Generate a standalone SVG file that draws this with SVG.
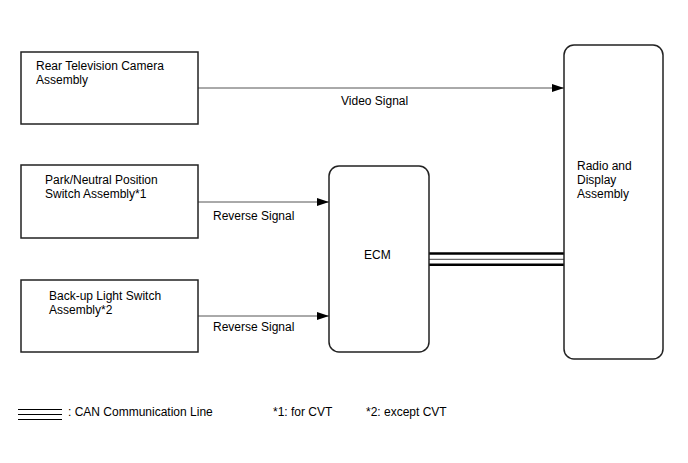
<svg xmlns="http://www.w3.org/2000/svg" width="688" height="463" viewBox="0 0 688 463">
<defs>
<style>
text{font-family:"Liberation Sans",Arial,sans-serif;font-size:12px;fill:#000}
.box{fill:#fff;stroke:#222;stroke-width:1.5}
.ln{stroke:#555;stroke-width:1;fill:none}
</style>
<marker id="arr" markerWidth="12" markerHeight="8" refX="12" refY="4" orient="auto" markerUnits="userSpaceOnUse">
<path d="M0,0 L12,4 L0,8 Z" fill="#000"/>
</marker>
</defs>
<rect width="688" height="463" fill="#fff"/>
<g id="connectors">
<line class="ln" x1="198" y1="88" x2="564" y2="88" marker-end="url(#arr)"/>
<line class="ln" x1="198" y1="202" x2="329" y2="202" marker-end="url(#arr)"/>
<line class="ln" x1="198" y1="316" x2="329" y2="316" marker-end="url(#arr)"/>
<line x1="429" y1="253.5" x2="564" y2="253.5" stroke="#000" stroke-width="2.5"/>
<line x1="429" y1="259.3" x2="564" y2="259.3" stroke="#444" stroke-width="1"/>
<line x1="429" y1="264.7" x2="564" y2="264.7" stroke="#000" stroke-width="2.5"/>
<text x="341" y="105">Video Signal</text>
<text x="213" y="220">Reverse Signal</text>
<text x="213" y="331">Reverse Signal</text>
</g>
<g id="camera">
<rect class="box" x="21" y="52" width="177" height="72"/>
<text x="36" y="70">Rear Television Camera</text>
<text x="36" y="84">Assembly</text>
</g>
<g id="park">
<rect class="box" x="21" y="165" width="177" height="73"/>
<text x="45" y="184">Park/Neutral Position</text>
<text x="45" y="198">Switch Assembly*1</text>
</g>
<g id="backup">
<rect class="box" x="21" y="280" width="177" height="72"/>
<text x="49" y="300">Back-up Light Switch</text>
<text x="49" y="314">Assembly*2</text>
</g>
<g id="ecm">
<rect class="box" x="329" y="166" width="100" height="186" rx="10" ry="10"/>
<text x="364" y="259">ECM</text>
</g>
<g id="radio">
<rect class="box" x="564" y="45" width="99" height="314" rx="10" ry="10"/>
<text x="577" y="170">Radio and</text>
<text x="577" y="184">Display</text>
<text x="577" y="198">Assembly</text>
</g>
<g id="legend">
<line x1="18" y1="409.5" x2="62" y2="409.5" stroke="#000" stroke-width="1"/>
<line x1="18" y1="414.5" x2="62" y2="414.5" stroke="#000" stroke-width="1"/>
<line x1="18" y1="419.5" x2="62" y2="419.5" stroke="#000" stroke-width="1"/>
<text x="68" y="416">: CAN Communication Line</text>
<text x="273" y="416">*1: for CVT</text>
<text x="366" y="416">*2: except CVT</text>
</g>
</svg>
